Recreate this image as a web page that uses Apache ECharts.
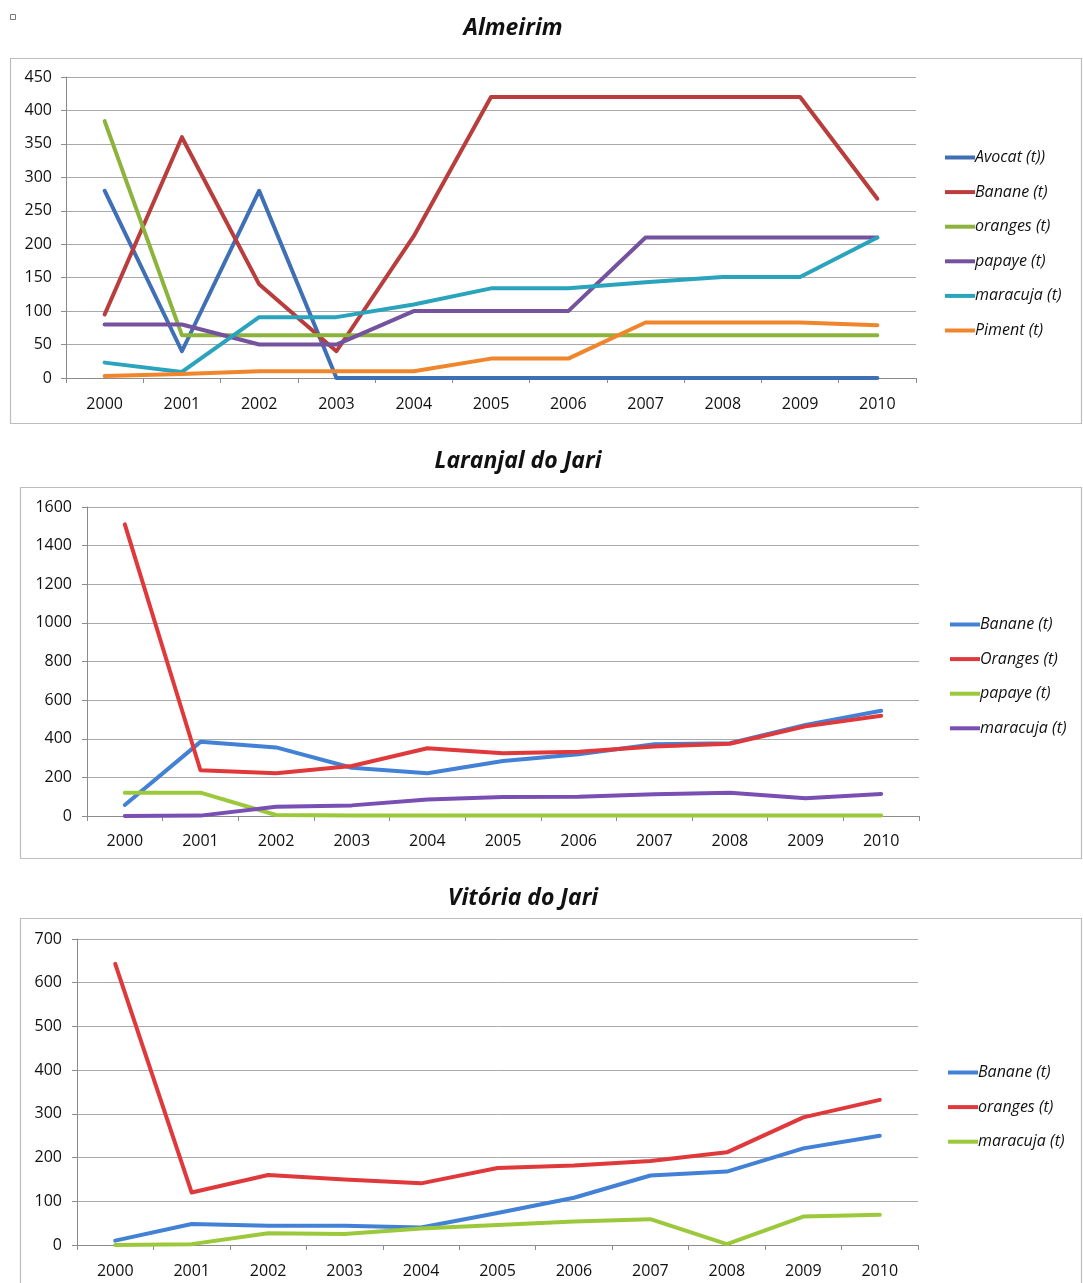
<!DOCTYPE html>
<html>
<head>
<meta charset="utf-8">
<script src="https://cdn.jsdelivr.net/npm/echarts@6/dist/echarts.min.js"></script>
<style>
  html, body { margin: 0; padding: 0; background: #fff; }
  #page { position: relative; width: 1083px; height: 1283px; overflow: hidden; }
  .panel { position: absolute; left: 0; width: 1083px; }
</style>
</head>
<body>
<div id="page">
  <div id="c1" class="panel" style="top:0;height:440px"></div>
  <div id="c2" class="panel" style="top:440px;height:435px"></div>
  <div id="c3" class="panel" style="top:875px;height:408px"></div>
</div>
<script>
// Years shared by all three municipalities
const years = ['2000', '2001', '2002', '2003', '2004', '2005', '2006', '2007', '2008', '2009', '2010'];

// Almeirim production (tonnes)
const almAvocat   = [280, 40, 280, 0, 0, 0, 0, 0, 0, 0, 0];
const almBanane   = [95, 360, 140, 40, 212, 420, 420, 420, 420, 420, 268];
const almOranges  = [384, 64, 64, 64, 64, 64, 64, 64, 64, 64, 64];
const almPapaye   = [80, 80, 50, 50, 100, 100, 100, 210, 210, 210, 210];
const almMaracuja = [23, 9, 91, 91, 110, 134, 134, 143, 151, 151, 210];
const almPiment   = [3, 6, 10, 10, 10, 29, 29, 83, 83, 83, 79];

// Laranjal do Jari production (tonnes)
const larBanane   = [57, 384, 355, 250, 221, 285, 320, 372, 377, 472, 545];
const larOranges  = [1510, 237, 221, 259, 351, 325, 333, 360, 374, 464, 519];
const larPapaye   = [121, 121, 5, 2, 2, 2, 2, 2, 2, 2, 2];
const larMaracuja = [0, 2, 48, 55, 86, 98, 100, 112, 121, 92, 114];

// Vitória do Jari production (tonnes)
const vitBanane   = [10, 48, 44, 44, 40, 73, 108, 159, 168, 221, 250];
const vitOranges  = [643, 120, 160, 150, 141, 176, 182, 192, 212, 292, 332];
const vitMaracuja = [0, 2, 27, 25, 38, 46, 54, 59, 2, 65, 69];

// Value-axis scales
const almAxis = { max: 450, step: 50 };
const larAxis = { max: 1600, step: 200 };
const vitAxis = { max: 700, step: 100 };

const FONT = '"Open Sans", "Liberation Sans", sans-serif';
const GRID_COLOR = '#a9a9a9';
const AXIS_COLOR = '#8c8c8c';
const FRAME_COLOR = '#bdbdbd';
const TEXT_COLOR = '#111';

function makeOption(cfg) {
  return {
    animation: false,
    backgroundColor: '#fff',
    graphic: [
      {
        type: 'rect', silent: true, z: -1,
        shape: { x: cfg.frame[0] + 0.5, y: cfg.frame[1] + 0.5, width: cfg.frame[2], height: cfg.frame[3] },
        style: { fill: '#fff', stroke: FRAME_COLOR, lineWidth: 1.2 }
      },
      {
        type: 'text', silent: true,
        x: cfg.titleX, y: cfg.titleY,
        style: {
          text: cfg.title, fill: '#111', font: 'italic bold 23px ' + FONT,
          align: 'center', verticalAlign: 'middle'
        }
      }
    ].concat(cfg.extraGraphic || []),
    grid: {
      left: cfg.grid[0], top: cfg.grid[1], width: cfg.grid[2], height: cfg.grid[3],
      containLabel: false
    },
    legend: {
      orient: 'vertical',
      left: cfg.legendLeft, top: cfg.legendTop,
      itemWidth: 30, itemHeight: 4, itemGap: 13.6,
      icon: 'rect',
      textStyle: { fontFamily: FONT, fontSize: 16, fontStyle: 'italic', color: TEXT_COLOR, lineHeight: 21, padding: [0, 0, 0, -5] },
      data: cfg.series.map(s => s.name)
    },
    xAxis: {
      type: 'category',
      data: years,
      boundaryGap: true,
      axisLine: { lineStyle: { color: AXIS_COLOR, width: 1 } },
      axisTick: { show: true, length: 5, interval: 0, lineStyle: { color: AXIS_COLOR } },
      axisLabel: { fontFamily: FONT, fontSize: 16, color: TEXT_COLOR, margin: cfg.xMargin, interval: 0 },
      splitLine: { show: false }
    },
    yAxis: {
      type: 'value',
      min: 0, max: cfg.axis.max, interval: cfg.axis.step,
      axisLine: { show: true, lineStyle: { color: AXIS_COLOR, width: 1 } },
      axisTick: { show: true, length: 5, lineStyle: { color: AXIS_COLOR } },
      axisLabel: {
        fontFamily: FONT, fontSize: 16, color: TEXT_COLOR, margin: cfg.yMargin,
        formatter: v => String(v)
      },
      splitLine: { show: true, lineStyle: { color: GRID_COLOR, width: 1 } }
    },
    series: cfg.series.map(s => ({
      name: s.name,
      type: 'line',
      data: s.data,
      symbol: 'none',
      smooth: false,
      color: s.color,
      lineStyle: { width: 4, color: s.color, cap: 'round', join: 'round' },
      z: 3
    }))
  };
}

const c1 = echarts.init(document.getElementById('c1'), null, { renderer: 'canvas' });
c1.setOption(makeOption({
  title: 'Almeirim', titleX: 513, titleY: 28,
  frame: [10, 58, 1071, 365],
  extraGraphic: [{
    type: 'rect', silent: true,
    shape: { x: 10.5, y: 14.5, width: 5, height: 5 },
    style: { fill: '#fff', stroke: '#777', lineWidth: 1 }
  }],
  grid: [66, 77, 850, 301],
  axis: almAxis, yMargin: 14, xMargin: 18,
  legendLeft: 940, legendTop: 142,
  series: [
    { name: 'Avocat (t))', data: almAvocat, color: '#3f6fb5' },
    { name: 'Banane (t)', data: almBanane, color: '#b83d3c' },
    { name: 'oranges (t)', data: almOranges, color: '#8cb43c' },
    { name: 'papaye (t)', data: almPapaye, color: '#74529e' },
    { name: 'maracuja (t)', data: almMaracuja, color: '#2aa3bd' },
    { name: 'Piment (t)', data: almPiment, color: '#f0852c' }
  ]
}));

const c2 = echarts.init(document.getElementById('c2'), null, { renderer: 'canvas' });
c2.setOption(makeOption({
  title: 'Laranjal do Jari', titleX: 518, titleY: 21,
  frame: [20, 47, 1061, 371],
  grid: [87, 67, 832, 309],
  axis: larAxis, yMargin: 15, xMargin: 17,
  legendLeft: 945, legendTop: 169,
  series: [
    { name: 'Banane (t)', data: larBanane, color: '#4381d6' },
    { name: 'Oranges (t)', data: larOranges, color: '#e0393b' },
    { name: 'papaye (t)', data: larPapaye, color: '#9cc83c' },
    { name: 'maracuja (t)', data: larMaracuja, color: '#7a4fb3' }
  ]
}));

const c3 = echarts.init(document.getElementById('c3'), null, { renderer: 'canvas' });
c3.setOption(makeOption({
  title: 'Vitória do Jari', titleX: 523, titleY: 23,
  frame: [20, 43, 1061, 420],
  grid: [77, 64, 841, 306],
  axis: vitAxis, yMargin: 15, xMargin: 18,
  legendLeft: 943, legendTop: 182,
  series: [
    { name: 'Banane (t)', data: vitBanane, color: '#4381d6' },
    { name: 'oranges (t)', data: vitOranges, color: '#e0393b' },
    { name: 'maracuja (t)', data: vitMaracuja, color: '#9cc83c' }
  ]
}));
</script>
</body>
</html>
